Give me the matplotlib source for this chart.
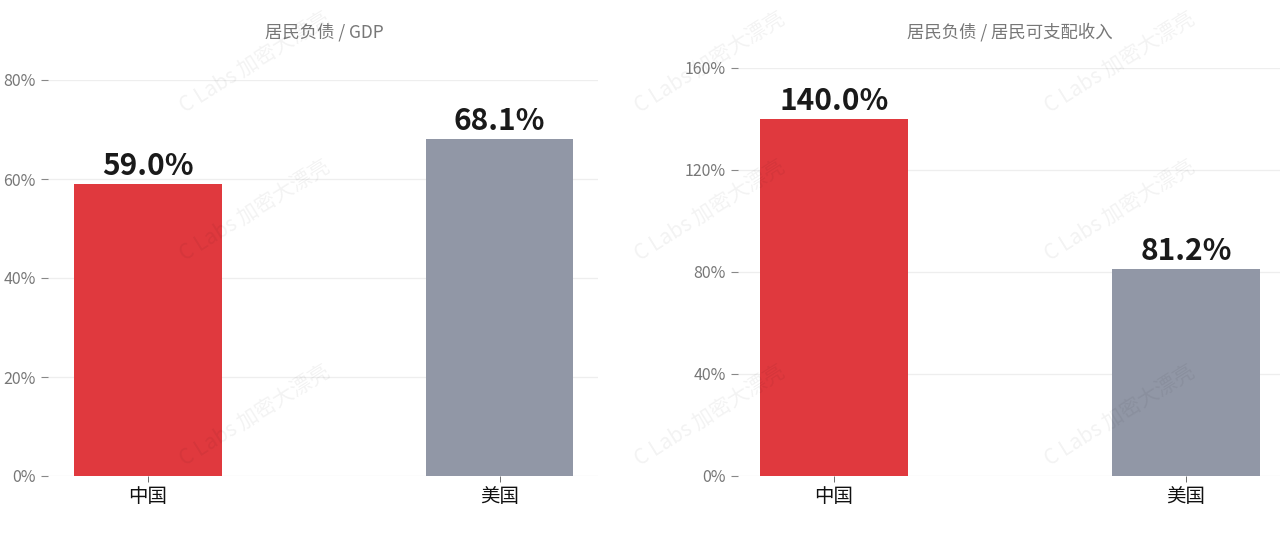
import matplotlib.pyplot as plt
from matplotlib.ticker import PercentFormatter

plt.rcParams['font.family'] = ['Noto Sans CJK SC', 'DejaVu Sans']

#------------------------------------------------------------------------------

countries = ['中国', '美国']
debt_gdp = [59.0, 68.1]            # 居民负债 / GDP (%)
debt_income = [140.0, 81.2]        # 居民负债 / 居民可支配收入 (%)

titles = ['居民负债 / GDP', '居民负债 / 居民可支配收入']
yticks_gdp = [0, 20, 40, 60, 80]
yticks_income = [0, 40, 80, 120, 160]

bar_colors = ['#e0393e', '#9197a6']
watermark = 'C Labs 加密大漂亮'

#------------------------------------------------------------------------------

fig = plt.figure(figsize=(12.8, 5.44), dpi=100)

ax1 = fig.add_axes([48/1280, 68/544, 550/1280, 396/544])
ax2 = fig.add_axes([738/1280, 68/544, 542/1280, 408/544])


def draw_panel(ax, values, yticks, xlim):
    x = range(len(countries))
    ax.bar(x, values, width=0.42, color=bar_colors, zorder=2)
    for xi, v in zip(x, values):
        ax.text(xi, v + yticks[-1] * 0.008, f'{v:.1f}%', ha='center', va='bottom',
                fontsize=21.5, fontweight='bold', color='#1a1a1a', zorder=3)
    ax.set_ylim(0, yticks[-1])
    ax.set_xlim(*xlim)
    ax.set_yticks(yticks)
    ax.yaxis.set_major_formatter(PercentFormatter(decimals=0))
    ax.set_xticks(list(x))
    ax.set_xticklabels(countries, fontsize=14, color='#111111')
    ax.tick_params(axis='y', length=5, width=0.8, color='#888888',
                   labelsize=11.5, labelcolor='#777777', pad=4)
    ax.tick_params(axis='x', length=4, width=0.6, color='#555555', pad=3)
    ax.grid(axis='y', color='#eeeeee', linewidth=0.9, zorder=0)
    for s in ax.spines.values():
        s.set_visible(False)


draw_panel(ax1, debt_gdp, yticks_gdp, (-0.284, 1.28))
draw_panel(ax2, debt_income, yticks_income, (-0.273, 1.267))

fig.text(324/1280, 1 - 32/544, titles[0], ha='center', va='center',
         fontsize=12.5, color='#777777')
fig.text(1010/1280, 1 - 32/544, titles[1], ha='center', va='center',
         fontsize=12.5, color='#777777')

# 水印
for wx in [255, 710, 1120]:
    for wy in [62, 210, 415]:
        fig.text(wx/1280, 1 - wy/544, watermark, ha='center', va='center',
                 rotation=32, fontsize=15, color='#000000', alpha=0.05)

fig.savefig('out.png', dpi=100)
